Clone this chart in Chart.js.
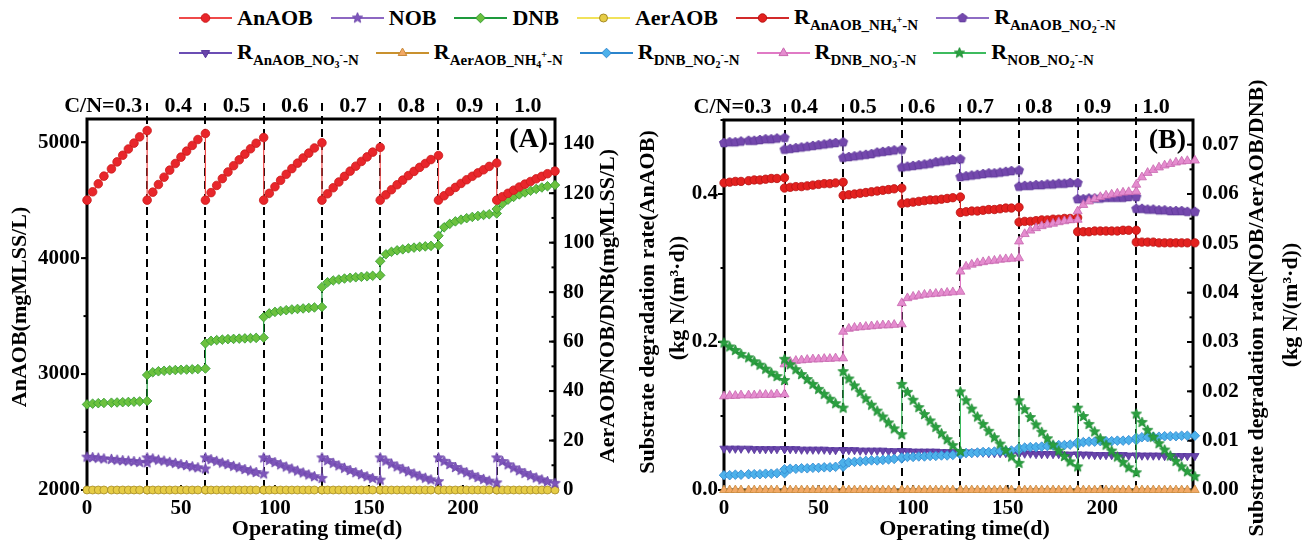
<!DOCTYPE html>
<html>
<head>
<meta charset="utf-8">
<script src="https://cdn.jsdelivr.net/npm/chart.js@4.4.1/dist/chart.umd.min.js"></script>
<style>
html, body { margin: 0; padding: 0; background: #fff; }
body { width: 1309px; height: 546px; position: relative; overflow: hidden;
       font-family: "Liberation Serif", "Times New Roman", serif; font-weight: bold; color: #000; }
.row { position: absolute; left: 179px; height: 36px; display: flex; align-items: center; white-space: nowrap; }
#row1 { top: 0; gap: 18px; }
#row2 { top: 35px; gap: 17px; }
.item { display: flex; align-items: center; font-size: 22px; line-height: 1; }
.item canvas { margin-right: 5px; }
.item sub { font-size: 15px; vertical-align: -6px; line-height: 0; }
.item sub sub { font-size: 10px; vertical-align: -3px; }
.item sub sup { font-size: 10px; vertical-align: 7px; line-height: 0; }
#wrapA { position: absolute; left: 0; top: 80px; }
#wrapB { position: absolute; left: 630px; top: 80px; }
</style>
</head>
<body>
<div class="row" id="row1"></div>
<div class="row" id="row2"></div>
<div id="wrapA"><canvas id="chartA" width="650" height="466"></canvas></div>
<div id="wrapB"><canvas id="chartB" width="679" height="466"></canvas></div>
<script>
// operating days of the plotted points (11 per C/N stage, stage edges shared)
const days = [
    0, 3, 6, 9, 13, 16, 19, 22, 25, 28, 32,
    32, 35, 38, 41, 44, 47, 50, 53, 56, 59, 63,
    63, 66, 69, 72, 75, 78, 81, 84, 87, 90, 94,
    94, 97, 100, 103, 106, 109, 112, 115, 118, 121, 125,
    125, 128, 131, 134, 137, 140, 143, 146, 149, 152, 156,
    156, 159, 162, 165, 168, 171, 174, 177, 180, 183, 187,
    187, 190, 193, 196, 199, 202, 205, 208, 211, 214, 218,
    218, 221, 224, 227, 230, 233, 236, 239, 242, 245, 249
];
const cnBounds = [32, 63, 94, 125, 156, 187, 218];
const cnLabels = ['C/N=0.3', '0.4', '0.5', '0.6', '0.7', '0.8', '0.9', '1.0'];

// tick labels
const xTicks = [0, 50, 100, 150, 200];
const ticksA = [2000, 3000, 4000, 5000];
const ticksA2 = [0, 20, 40, 60, 80, 100, 120, 140];
const ticksB = [0, 0.2, 0.4];
const ticksB2 = [0, 0.01, 0.02, 0.03, 0.04, 0.05, 0.06, 0.07];

// (A) biomass, mgMLSS/L
const anaob = [
    4500, 4572, 4641, 4707, 4770, 4830, 4887, 4941, 4992, 5046, 5100,
    4500, 4569, 4635, 4698, 4759, 4816, 4871, 4923, 4972, 5023, 5075,
    4500, 4565, 4627, 4686, 4743, 4797, 4848, 4897, 4943, 4991, 5040,
    4500, 4559, 4616, 4671, 4723, 4772, 4819, 4864, 4906, 4950, 4995,
    4500, 4555, 4607, 4657, 4705, 4750, 4793, 4834, 4873, 4914, 4955,
    4500, 4546, 4590, 4633, 4673, 4712, 4748, 4783, 4816, 4850, 4885,
    4500, 4538, 4575, 4610, 4644, 4676, 4706, 4735, 4762, 4791, 4820,
    4500, 4530, 4559, 4586, 4613, 4638, 4661, 4684, 4705, 4728, 4750
];
const nob = [
    13.3, 13.1, 12.9, 12.6, 12.4, 12.1, 11.9, 11.7, 11.5, 11.2, 11.0,
    13.0, 12.6, 12.1, 11.7, 11.2, 10.8, 10.3, 9.9, 9.4, 9.0, 8.5,
    13.0, 12.3, 11.6, 10.9, 10.3, 9.6, 9.0, 8.3, 7.7, 7.1, 6.5,
    13.0, 12.0, 11.1, 10.2, 9.3, 8.5, 7.7, 6.9, 6.1, 5.4, 4.7,
    13.0, 11.9, 10.8, 9.8, 8.8, 7.9, 7.0, 6.2, 5.4, 4.7, 4.0,
    13.0, 11.7, 10.5, 9.4, 8.4, 7.4, 6.5, 5.6, 4.8, 4.1, 3.4,
    13.0, 11.6, 10.3, 9.1, 8.0, 7.0, 6.0, 5.1, 4.3, 3.6, 2.9,
    13.0, 11.5, 10.2, 8.9, 7.8, 6.7, 5.8, 4.9, 4.1, 3.4, 2.7
];
const dnb = [
    34.6, 34.9, 35.1, 35.2, 35.3, 35.4, 35.5, 35.6, 35.7, 35.8, 36.0,
    46.5, 47.6, 48.0, 48.2, 48.4, 48.5, 48.6, 48.7, 48.8, 48.9, 49.1,
    59.3, 60.3, 60.6, 60.8, 61.0, 61.1, 61.2, 61.3, 61.4, 61.5, 61.6,
    69.9, 71.4, 72.0, 72.4, 72.7, 73.0, 73.2, 73.4, 73.6, 73.8, 74.0,
    82.0, 84.0, 84.7, 85.1, 85.5, 85.8, 86.0, 86.2, 86.4, 86.6, 86.8,
    92.5, 95.3, 96.3, 96.9, 97.3, 97.7, 98.0, 98.3, 98.5, 98.7, 98.9,
    102.8, 106.2, 107.6, 108.6, 109.3, 109.9, 110.4, 110.8, 111.2, 111.5, 111.8,
    113.6, 115.8, 117.4, 118.5, 119.5, 120.3, 121.0, 121.7, 122.3, 122.8, 123.3
];
const aeraob = [
    0, 0, 0, 0, 0, 0, 0, 0, 0, 0, 0,
    0, 0, 0, 0, 0, 0, 0, 0, 0, 0, 0,
    0, 0, 0, 0, 0, 0, 0, 0, 0, 0, 0,
    0, 0, 0, 0, 0, 0, 0, 0, 0, 0, 0,
    0, 0, 0, 0, 0, 0, 0, 0, 0, 0, 0,
    0, 0, 0, 0, 0, 0, 0, 0, 0, 0, 0,
    0, 0, 0, 0, 0, 0, 0, 0, 0, 0, 0,
    0, 0, 0, 0, 0, 0, 0, 0, 0, 0, 0
];

// (B) substrate degradation rates, kg N/(m3.d)
const rAnaobNH4 = [
    0.415, 0.416, 0.417, 0.417, 0.418, 0.419, 0.419, 0.420, 0.421, 0.421, 0.422,
    0.408, 0.409, 0.410, 0.410, 0.411, 0.412, 0.413, 0.414, 0.414, 0.415, 0.416,
    0.398, 0.399, 0.400, 0.401, 0.402, 0.403, 0.404, 0.405, 0.406, 0.407, 0.408,
    0.387, 0.388, 0.389, 0.390, 0.391, 0.392, 0.392, 0.393, 0.394, 0.395, 0.396,
    0.375, 0.376, 0.377, 0.377, 0.378, 0.379, 0.379, 0.380, 0.381, 0.381, 0.382,
    0.362, 0.363, 0.363, 0.364, 0.365, 0.365, 0.366, 0.366, 0.367, 0.367, 0.368,
    0.349, 0.349, 0.349, 0.350, 0.350, 0.350, 0.350, 0.350, 0.351, 0.351, 0.351,
    0.335, 0.335, 0.335, 0.335, 0.334, 0.334, 0.334, 0.334, 0.334, 0.334, 0.334
];
const rAnaobNO2 = [
    0.469, 0.470, 0.470, 0.471, 0.472, 0.472, 0.473, 0.474, 0.474, 0.475, 0.476,
    0.460, 0.461, 0.462, 0.463, 0.464, 0.465, 0.466, 0.467, 0.468, 0.469, 0.470,
    0.449, 0.450, 0.451, 0.452, 0.453, 0.454, 0.456, 0.457, 0.458, 0.459, 0.460,
    0.436, 0.437, 0.438, 0.439, 0.440, 0.441, 0.443, 0.444, 0.445, 0.446, 0.447,
    0.423, 0.424, 0.425, 0.426, 0.427, 0.428, 0.428, 0.429, 0.430, 0.431, 0.432,
    0.410, 0.411, 0.411, 0.412, 0.412, 0.413, 0.413, 0.414, 0.414, 0.415, 0.415,
    0.393, 0.393, 0.394, 0.394, 0.394, 0.395, 0.395, 0.395, 0.395, 0.396, 0.396,
    0.380, 0.380, 0.379, 0.379, 0.378, 0.378, 0.377, 0.377, 0.377, 0.376, 0.376
];
const rAnaobNO3 = [
    0.0084, 0.0084, 0.0084, 0.0084, 0.0084, 0.0083, 0.0083, 0.0083, 0.0083, 0.0083, 0.0083,
    0.0083, 0.0083, 0.0083, 0.0082, 0.0082, 0.0082, 0.0082, 0.0082, 0.0081, 0.0081, 0.0081,
    0.0081, 0.0081, 0.0081, 0.0080, 0.0080, 0.0080, 0.0080, 0.0080, 0.0079, 0.0079, 0.0079,
    0.0079, 0.0079, 0.0078, 0.0078, 0.0078, 0.0078, 0.0078, 0.0077, 0.0077, 0.0077, 0.0077,
    0.0077, 0.0076, 0.0076, 0.0076, 0.0076, 0.0075, 0.0075, 0.0075, 0.0075, 0.0075, 0.0074,
    0.0074, 0.0074, 0.0074, 0.0073, 0.0073, 0.0073, 0.0073, 0.0073, 0.0072, 0.0072, 0.0072,
    0.0072, 0.0072, 0.0072, 0.0071, 0.0071, 0.0071, 0.0071, 0.0071, 0.0071, 0.0070, 0.0070,
    0.0070, 0.0070, 0.0070, 0.0070, 0.0070, 0.0069, 0.0069, 0.0069, 0.0069, 0.0069, 0.0069
];
const rAeraobNH4 = [
    0, 0, 0, 0, 0, 0, 0, 0, 0, 0, 0,
    0, 0, 0, 0, 0, 0, 0, 0, 0, 0, 0,
    0, 0, 0, 0, 0, 0, 0, 0, 0, 0, 0,
    0, 0, 0, 0, 0, 0, 0, 0, 0, 0, 0,
    0, 0, 0, 0, 0, 0, 0, 0, 0, 0, 0,
    0, 0, 0, 0, 0, 0, 0, 0, 0, 0, 0,
    0, 0, 0, 0, 0, 0, 0, 0, 0, 0, 0,
    0, 0, 0, 0, 0, 0, 0, 0, 0, 0, 0
];
const rDnbNO2 = [
    0.0030, 0.0030, 0.0031, 0.0031, 0.0032, 0.0032, 0.0032, 0.0033, 0.0033, 0.0034, 0.0034,
    0.0042, 0.0043, 0.0043, 0.0044, 0.0044, 0.0045, 0.0045, 0.0046, 0.0046, 0.0047, 0.0047,
    0.0055, 0.0056, 0.0057, 0.0058, 0.0059, 0.0060, 0.0060, 0.0061, 0.0062, 0.0063, 0.0064,
    0.0066, 0.0067, 0.0067, 0.0068, 0.0068, 0.0069, 0.0069, 0.0070, 0.0070, 0.0071, 0.0072,
    0.0074, 0.0075, 0.0075, 0.0076, 0.0077, 0.0077, 0.0078, 0.0079, 0.0079, 0.0080, 0.0081,
    0.0085, 0.0086, 0.0087, 0.0087, 0.0088, 0.0089, 0.0090, 0.0091, 0.0091, 0.0092, 0.0093,
    0.0097, 0.0097, 0.0098, 0.0098, 0.0099, 0.0099, 0.0099, 0.0100, 0.0100, 0.0101, 0.0101,
    0.0106, 0.0107, 0.0107, 0.0108, 0.0108, 0.0109, 0.0109, 0.0109, 0.0110, 0.0110, 0.0110
];
const rDnbNO3 = [
    0.0190, 0.0191, 0.0191, 0.0192, 0.0192, 0.0192, 0.0193, 0.0193, 0.0193, 0.0194, 0.0194,
    0.0255, 0.0260, 0.0262, 0.0263, 0.0264, 0.0265, 0.0265, 0.0266, 0.0266, 0.0267, 0.0267,
    0.0321, 0.0327, 0.0329, 0.0330, 0.0331, 0.0332, 0.0333, 0.0334, 0.0334, 0.0335, 0.0336,
    0.0379, 0.0389, 0.0392, 0.0394, 0.0396, 0.0397, 0.0398, 0.0399, 0.0400, 0.0401, 0.0402,
    0.0443, 0.0453, 0.0457, 0.0460, 0.0462, 0.0464, 0.0465, 0.0467, 0.0468, 0.0469, 0.0470,
    0.0504, 0.0519, 0.0526, 0.0531, 0.0535, 0.0538, 0.0540, 0.0543, 0.0545, 0.0547, 0.0548,
    0.0565, 0.0578, 0.0585, 0.0590, 0.0594, 0.0597, 0.0599, 0.0601, 0.0603, 0.0604, 0.0605,
    0.0619, 0.0634, 0.0643, 0.0649, 0.0654, 0.0658, 0.0661, 0.0664, 0.0666, 0.0667, 0.0668
];
const rNobNO2 = [
    0.0298, 0.0290, 0.0283, 0.0275, 0.0268, 0.0260, 0.0253, 0.0245, 0.0237, 0.0230, 0.0222,
    0.0265, 0.0254, 0.0244, 0.0234, 0.0224, 0.0214, 0.0204, 0.0194, 0.0184, 0.0175, 0.0166,
    0.0240, 0.0225, 0.0211, 0.0198, 0.0185, 0.0172, 0.0160, 0.0148, 0.0136, 0.0124, 0.0112,
    0.0214, 0.0198, 0.0182, 0.0167, 0.0153, 0.0140, 0.0127, 0.0114, 0.0102, 0.0090, 0.0078,
    0.0199, 0.0181, 0.0164, 0.0148, 0.0133, 0.0119, 0.0106, 0.0093, 0.0080, 0.0067, 0.0054,
    0.0181, 0.0163, 0.0147, 0.0132, 0.0117, 0.0104, 0.0091, 0.0079, 0.0068, 0.0057, 0.0047,
    0.0166, 0.0149, 0.0133, 0.0118, 0.0104, 0.0091, 0.0079, 0.0067, 0.0056, 0.0045, 0.0035,
    0.0154, 0.0137, 0.0121, 0.0107, 0.0094, 0.0081, 0.0069, 0.0058, 0.0047, 0.0037, 0.0027
];

const legendNames = {
    anaob: 'AnAOB',
    nob: 'NOB',
    dnb: 'DNB',
    aeraob: 'AerAOB',
    rNH4: 'R<sub>AnAOB_NH<sub>4</sub><sup>+</sup>-N</sub>',
    rNO2: 'R<sub>AnAOB_NO<sub>2</sub><sup>-</sup>-N</sub>',
    rNO3: 'R<sub>AnAOB_NO<sub>3</sub><sup>-</sup>-N</sub>',
    rAer: 'R<sub>AerAOB_NH<sub>4</sub><sup>+</sup>-N</sub>',
    rDnbNO2: 'R<sub>DNB_NO<sub>2</sub><sup>-</sup>-N</sub>',
    rDnbNO3: 'R<sub>DNB_NO<sub>3</sub><sup>-</sup>-N</sub>',
    rNob: 'R<sub>NOB_NO<sub>2</sub><sup>-</sup>-N</sub>'
};
const legendRows = [
    ['anaob', 'nob', 'dnb', 'aeraob', 'rNH4', 'rNO2'],
    ['rNO3', 'rAer', 'rDnbNO2', 'rDnbNO3', 'rNob']
];

const styles = {
    anaob:   { line: '#ef4a4a', fill: '#e8262b', edge: '#cc1a1a', shape: 'circle', r: 4.3 },
    nob:     { line: '#8d67c2', fill: '#7e55bb', edge: '#6a44a8', shape: 'star', r: 5.5 },
    dnb:     { line: '#1e9a3c', fill: '#6cc13f', edge: '#2f9a2f', shape: 'rectRot', r: 4.8 },
    aeraob:  { line: '#f1e25a', fill: '#e6cc45', edge: '#a58a25', shape: 'circle', r: 4 },
    rNH4:    { line: '#d22a2a', fill: '#e3211f', edge: '#b81414', shape: 'circle', r: 4.2 },
    rNO2:    { line: '#8e6cc4', fill: '#7448ad', edge: '#5e3898', shape: 'pentagon', r: 4.8 },
    rNO3:    { line: '#6b4db4', fill: '#6a45ab', edge: '#54349a', shape: 'triangle', rot: 180, r: 4.8 },
    rAer:    { line: '#c9912e', fill: '#f2a865', edge: '#c88a3c', shape: 'triangle', r: 5 },
    rDnbNO2: { line: '#2b84cc', fill: '#4db1ea', edge: '#2f86cf', shape: 'rectRot', r: 4.8 },
    rDnbNO3: { line: '#e07ac5', fill: '#e58ccf', edge: '#c767ae', shape: 'triangle', r: 5.2 },
    rNob:    { line: '#3dbb5e', fill: '#2aa03f', edge: '#1f8a33', shape: 'star', r: 5.5 }
};

const FONT = '"Liberation Serif", "Times New Roman", serif';
const font = size => 'bold ' + size + 'px ' + FONT;

// filled star / pentagon markers (Chart.js has no filled version)
function shapeCanvas(st) {
    const r = st.r, c = document.createElement('canvas');
    c.width = c.height = Math.ceil(r * 2 + 2);
    const g = c.getContext('2d'), m = c.width / 2;
    g.beginPath();
    if (st.shape === 'star') {
        for (let i = 0; i < 10; i++) {
            const rr = i % 2 ? r * 0.45 : r, ang = -Math.PI / 2 + i * Math.PI / 5;
            g.lineTo(m + rr * Math.cos(ang), m + rr * Math.sin(ang));
        }
    } else {
        for (let i = 0; i < 5; i++) {
            const ang = -Math.PI / 2 + i * 2 * Math.PI / 5;
            g.lineTo(m + r * Math.cos(ang), m + r * Math.sin(ang));
        }
    }
    g.closePath();
    g.fillStyle = st.fill;
    g.fill();
    g.strokeStyle = st.edge;
    g.lineWidth = 0.8;
    g.stroke();
    return c;
}
const markerOf = st => (st.shape === 'star' || st.shape === 'pentagon') ? shapeCanvas(st) : st.shape;

function ds(key, values, axis) {
    const st = styles[key];
    return {
        label: key,
        yAxisID: axis,
        data: days.map((d, i) => ({ x: d, y: values[i] })),
        borderColor: st.line,
        borderWidth: 1.2,
        pointStyle: markerOf(st),
        pointRadius: st.r,
        pointRotation: st.rot || 0,
        pointBackgroundColor: st.fill,
        pointBorderColor: st.edge,
        pointBorderWidth: 0.8,
        tension: 0,
        clip: 8
    };
}

// legend (HTML, for the sub/superscripts)
legendRows.forEach((row, r) => {
    const holder = document.getElementById('row' + (r + 1));
    row.forEach(key => {
        const st = styles[key];
        const item = document.createElement('div');
        item.className = 'item';
        const c = document.createElement('canvas');
        c.width = 53; c.height = 20;
        const g = c.getContext('2d');
        g.strokeStyle = st.line; g.lineWidth = 2;
        g.beginPath(); g.moveTo(0, 10); g.lineTo(53, 10); g.stroke();
        g.fillStyle = st.fill; g.strokeStyle = st.edge; g.lineWidth = 1;
        Chart.helpers.drawPoint(g, { pointStyle: markerOf(st), radius: st.r, rotation: st.rot || 0, borderWidth: 1 }, 26.5, 10);
        item.appendChild(c);
        const span = document.createElement('span');
        span.innerHTML = legendNames[key];
        item.appendChild(span);
        holder.appendChild(item);
    });
});

// frame, tick marks and stage lines go under the markers, texts on top
const decor = {
    id: 'decor',
    beforeDatasetsDraw(chart, args, o) {
        const { ctx, chartArea: a, scales: { x, y, y1 } } = chart;
        ctx.save();
        ctx.strokeStyle = '#000';

        ctx.lineWidth = 2;
        ctx.setLineDash([8, 5]);
        cnBounds.forEach(b => {
            const px = Math.round(x.getPixelForValue(b));
            ctx.beginPath();
            ctx.moveTo(px, a.top - 16);
            ctx.lineTo(px, a.bottom);
            ctx.stroke();
        });
        ctx.setLineDash([]);

        // tick marks: left outside, right and bottom inside
        const seg = (x1, y1_, x2, y2) => { ctx.beginPath(); ctx.moveTo(x1, y1_); ctx.lineTo(x2, y2); ctx.stroke(); };
        for (let v = y.min; v <= y.max + 1e-9; v += o.minorL) {
            const p = y.getPixelForValue(v); seg(a.left - 3.5, p, a.left, p);
        }
        y.ticks.forEach(t => { const p = y.getPixelForValue(t.value); seg(a.left - 6, p, a.left, p); });
        for (let v = y1.min; v <= y1.max + 1e-9; v += o.minorR) {
            const p = y1.getPixelForValue(v); seg(a.right - 3.5, p, a.right, p);
        }
        y1.ticks.forEach(t => { const p = y1.getPixelForValue(t.value); seg(a.right - 6, p, a.right, p); });
        x.ticks.forEach(t => { const p = x.getPixelForValue(t.value); seg(p, a.bottom - 5, p, a.bottom); });

        // frame
        ctx.lineWidth = 3;
        ctx.strokeRect(a.left, a.top, a.right - a.left, a.bottom - a.top);
        ctx.restore();
    },
    afterDraw(chart, args, o) {
        const { ctx, chartArea: a, scales: { x } } = chart;
        ctx.save();
        ctx.fillStyle = '#000';

        // C/N stage labels
        ctx.font = font(22);
        ctx.textBaseline = 'alphabetic';
        const edges = [x.min].concat(cnBounds, [x.max]);
        cnLabels.forEach((lab, i) => {
            const x0 = x.getPixelForValue(edges[i]), x1 = x.getPixelForValue(edges[i + 1]);
            if (i === 0) {
                ctx.textAlign = 'right';
                ctx.fillText(lab, x1 - o.firstGap, a.top - 7);
            } else if (o.cnAlign === 'center') {
                ctx.textAlign = 'center';
                ctx.fillText(lab, (x0 + x1) / 2 + 2, a.top - 7);
            } else {
                ctx.textAlign = 'left';
                ctx.fillText(lab, x0 + 6, a.top - 7);
            }
        });

        // panel letter
        ctx.font = font(28);
        ctx.textAlign = 'right';
        ctx.textBaseline = 'middle';
        ctx.fillText(o.panel, a.right - 7, a.top + 21);

        // axis titles
        ctx.font = font(22);
        ctx.textAlign = 'center';
        ctx.textBaseline = 'alphabetic';
        ctx.fillText('Operating time(d)', (a.left + a.right) / 2 + o.xTitleShift, a.bottom + 45);
        ctx.textBaseline = 'middle';
        o.titles.forEach(t => {
            ctx.save();
            ctx.translate(t.x, t.y);
            ctx.rotate(-Math.PI / 2);
            ctx.fillText(t.text, 0, 0);
            ctx.restore();
        });
        ctx.restore();
    }
};

const tickFont = { family: FONT, size: 21, weight: 'bold' };
const noGrid = { display: false, drawTicks: false };

function xScale(max) {
    return {
        type: 'linear', min: 0, max: max,
        grid: noGrid, border: { display: false },
        afterFit: s => { s.height = 56; },
        afterBuildTicks: s => { s.ticks = xTicks.map(v => ({ value: v })); },
        ticks: { font: tickFont, color: '#000', padding: 6, maxRotation: 0, autoSkip: false, callback: v => String(v) }
    };
}
function yScale(pos, min, max, list, width, pad, digits) {
    return {
        type: 'linear', position: pos, min: min, max: max,
        grid: noGrid, border: { display: false },
        afterFit: s => { s.width = width; },
        afterBuildTicks: s => { s.ticks = list.map(v => ({ value: v })); },
        ticks: {
            font: tickFont, color: '#000', padding: pad, autoSkip: false,
            callback: v => digits === null ? String(v) : v.toFixed(digits)
        }
    };
}

new Chart(document.getElementById('chartA'), {
    type: 'line',
    data: {
        datasets: [
            ds('anaob', anaob, 'y'),
            ds('nob', nob, 'y1'),
            ds('dnb', dnb, 'y1'),
            ds('aeraob', aeraob, 'y1')
        ]
    },
    options: {
        responsive: false,
        animation: false,
        layout: { padding: { top: 39, left: 0, right: 0, bottom: 0 } },
        plugins: {
            legend: { display: false },
            tooltip: { enabled: false },
            decor: {
                panel: '(A)', cnAlign: 'center', firstGap: 5, xTitleShift: -4,
                minorL: 500, minorR: 10,
                titles: [
                    { text: 'AnAOB(mgMLSS/L)', x: 20, y: 227 },
                    { text: 'AerAOB/NOB/DNB(mgMLSS/L)', x: 608, y: 226 }
                ]
            }
        },
        scales: {
            x: xScale(249),
            y: yScale('left', 2000, 5200, ticksA, 87, 7, null),
            y1: yScale('right', 0, 150, ticksA2, 95, 8, null)
        }
    },
    plugins: [decor]
});

new Chart(document.getElementById('chartB'), {
    type: 'line',
    data: {
        datasets: [
            ds('rNob', rNobNO2, 'y1'),
            ds('rDnbNO3', rDnbNO3, 'y1'),
            ds('rNH4', rAnaobNH4, 'y'),
            ds('rNO2', rAnaobNO2, 'y'),
            ds('rDnbNO2', rDnbNO2, 'y1'),
            ds('rNO3', rAnaobNO3, 'y1'),
            ds('rAer', rAeraobNH4, 'y1')
        ]
    },
    options: {
        responsive: false,
        animation: false,
        layout: { padding: { top: 40, left: 0, right: 0, bottom: 0 } },
        plugins: {
            legend: { display: false },
            tooltip: { enabled: false },
            decor: {
                panel: '(B)', cnAlign: 'left', firstGap: 13, xTitleShift: 6,
                minorL: 0.1, minorR: 0.005,
                titles: [
                    { text: 'Substrate degradation rate(AnAOB)', x: 18, y: 222 },
                    { text: '(kg N/(m\u00B3\u00B7d))', x: 48, y: 218 },
                    { text: 'Substrate degradation rate(NOB/AerAOB/DNB)', x: 627, y: 228 },
                    { text: '(kg N/(m\u00B3\u00B7d))', x: 661, y: 225 }
                ]
            }
        },
        scales: {
            x: xScale(248),
            y: yScale('left', 0, 0.5, ticksB, 94, 6, 1),
            y1: yScale('right', 0, 0.075, ticksB2, 116, 9, 2)
        }
    },
    plugins: [decor]
});
</script>
</body>
</html>
